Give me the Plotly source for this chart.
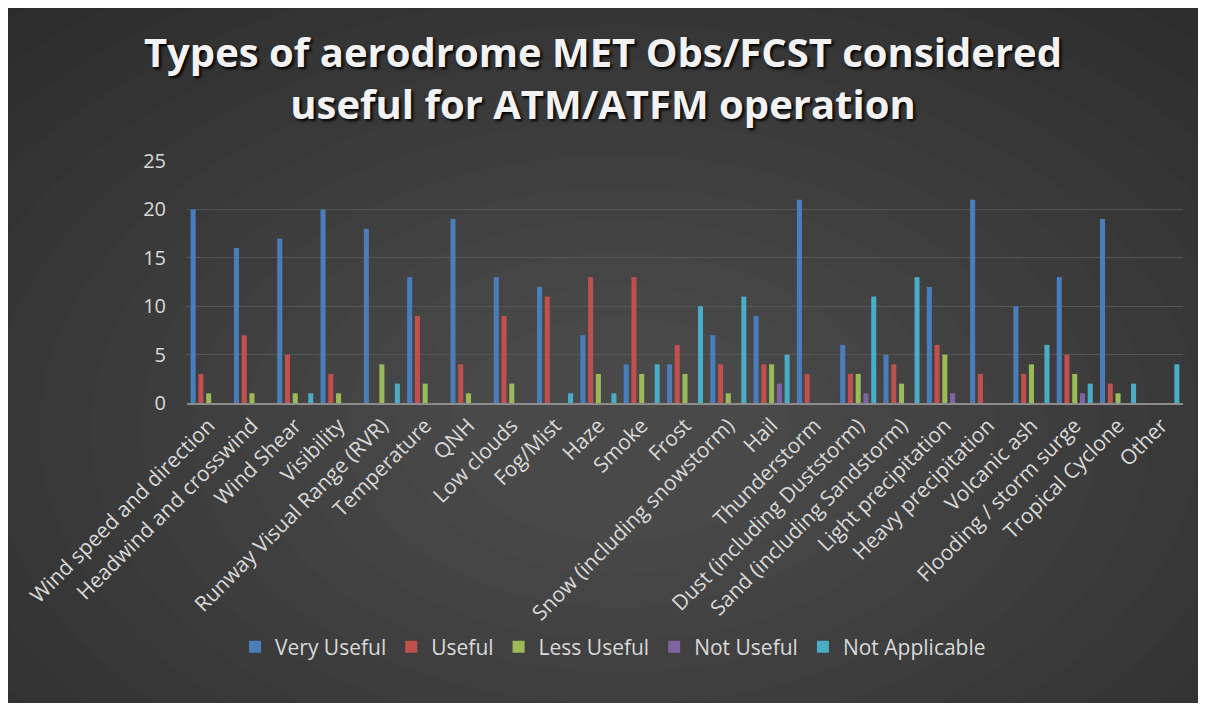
import plotly.graph_objects as go

categories = [
    "Wind speed and direction", "Headwind and crosswind", "Wind Shear", "Visibility",
    "Runway Visual Range (RVR)", "Temperature", "QNH", "Low clouds", "Fog/Mist", "Haze",
    "Smoke", "Frost", "Snow (including snowstorm)", "Hail", "Thunderstorm",
    "Dust (including Duststorm)", "Sand (including Sandstorm)", "Light precipitation",
    "Heavy precipitation", "Volcanic ash", "Flooding / storm surge", "Tropical Cyclone", "Other",
]
very_useful    = [20, 16, 17, 20, 18, 13, 19, 13, 12, 7, 4, 4, 7, 9, 21, 6, 5, 12, 21, 10, 13, 19, 0]
useful         = [3, 7, 5, 3, 0, 9, 4, 9, 11, 13, 13, 6, 4, 4, 3, 3, 4, 6, 3, 3, 5, 2, 0]
less_useful    = [1, 1, 1, 1, 4, 2, 1, 2, 0, 3, 3, 3, 1, 4, 0, 3, 2, 5, 0, 4, 3, 1, 0]
not_useful     = [0, 0, 0, 0, 0, 0, 0, 0, 0, 0, 0, 0, 0, 2, 0, 1, 0, 1, 0, 0, 1, 0, 0]
not_applicable = [0, 0, 1, 0, 2, 0, 0, 0, 1, 1, 4, 10, 11, 5, 0, 11, 13, 0, 0, 6, 2, 2, 4]

series_names = ["Very Useful", "Useful", "Less Useful", "Not Useful", "Not Applicable"]
series_values = [very_useful, useful, less_useful, not_useful, not_applicable]
series_colors = ["#4a7ebb", "#c0504d", "#9bbb59", "#8064a2", "#4bacc6"]

# The page body has an 8px margin; work in page pixels and convert.
OFF = 8
W, H = 1206 - 2 * OFF, 711 - 2 * OFF
PL, PR, PT, PB = 187 - OFF, 1183 - OFF, 161 - OFF, 403 - OFF  # plot area (figure px)

fig = go.Figure()
for name, vals, col in zip(series_names, series_values, series_colors):
    fig.add_trace(go.Bar(name=name, x=categories, y=vals,
                         marker=dict(color=col, line=dict(width=0))))


def fx(page_x):
    return (page_x - OFF - PL) / (PR - PL)


def fy(page_y):
    return (PB - (page_y - OFF)) / (PB - PT)


shapes = [dict(type="rect", xref="paper", yref="paper", layer="below",
               x0=fx(5), x1=fx(1201), y0=fy(706), y1=fy(3),
               fillcolor="#292929", line=dict(width=0))]
cx, cy = 620, 430
n = 16
for i in range(n):
    f = 1 - i / n
    rx = 120 + 820 * f
    ry = 80 + 520 * f
    shapes.append(dict(type="circle", xref="paper", yref="paper", layer="below",
                       x0=fx(cx - rx), x1=fx(cx + rx), y0=fy(cy + ry), y1=fy(cy - ry),
                       fillcolor="rgba(255,255,255,0.011)", line=dict(width=0)))

fig.update_layout(
    width=W, height=H,
    margin=dict(l=PL, r=W - PR, t=PT, b=H - PB, pad=0),
    paper_bgcolor="#ffffff",
    plot_bgcolor="rgba(0,0,0,0)",
    shapes=shapes,
    barmode="group",
    bargap=0.105,
    bargroupgap=0.35,
    font=dict(family="Open Sans", color="#d9d9d9"),
    title=dict(
        text="Types of aerodrome MET Obs/FCST considered<br>useful for ATM/ATFM operation",
        x=0.5 + (603 - OFF - W / 2) / W, xref="container", xanchor="center",
        y=1 - (67 - OFF) / H, yref="container", yanchor="middle",
        font=dict(family="Open Sans", size=40, color="#f2f2f2", weight="bold",
                  shadow="2px 2px 3px #000000"),
    ),
    legend=dict(
        orientation="h", xref="container", yref="container",
        x=(613 - OFF) / W, xanchor="center", y=1 - (647 - OFF) / H, yanchor="middle",
        font=dict(size=21, color="#d9d9d9"),
        bgcolor="rgba(0,0,0,0)", itemwidth=30,
    ),
    xaxis=dict(
        tickangle=-45, tickfont=dict(size=21, color="#d9d9d9"),
        showgrid=False, showline=True, linecolor="#8c8c8c", linewidth=2,
        ticks="", automargin=False,
    ),
    yaxis=dict(
        range=[0, 25], dtick=5, tickfont=dict(size=20, color="#d9d9d9"),
        showgrid=True, gridcolor="#555555", gridwidth=1,
        zeroline=False, showline=False, ticks="", ticklabelstandoff=20,
        automargin=False,
    ),
)

fig.write_html("out.html")
